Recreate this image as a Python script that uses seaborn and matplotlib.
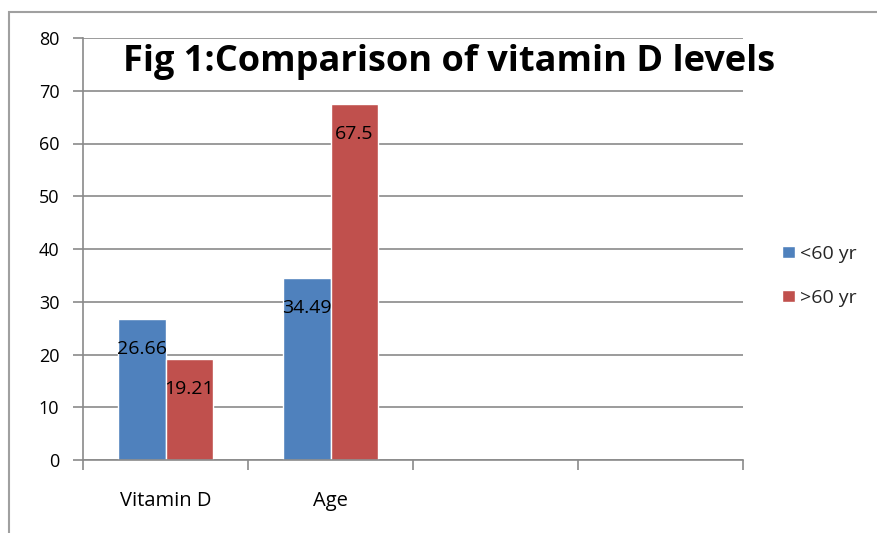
import matplotlib

matplotlib.use("Agg")
import matplotlib.pyplot as plt
import matplotlib.patches as mpatches
import pandas as pd
import seaborn as sns

# chart data
categories = ["Vitamin D", "Age"]
slots = ["Vitamin D", "Age", " ", "  "]
series = ["<60 yr", ">60 yr"]
under_60 = [26.66, 34.49]
over_60 = [19.21, 67.5]
colors = ["#4F81BD", "#C0504D"]
y_ticks = [0, 10, 20, 30, 40, 50, 60, 70, 80]
title = "Fig 1:Comparison of vitamin D levels"

df = pd.DataFrame({
    "category": categories * 2,
    "group": [series[0]] * len(categories) + [series[1]] * len(categories),
    "value": under_60 + over_60,
})

sns.set_theme(style="white")
plt.rcParams["font.family"] = ["Open Sans", "DejaVu Sans"]

W, H = 877, 533
fig = plt.figure(figsize=(W / 100, H / 100), dpi=100)
ax = fig.add_axes([83 / W, 1 - 460 / H, (743 - 83) / W, (460 - 38) / H])

sns.barplot(
    data=df, x="category", y="value", hue="group",
    order=slots, hue_order=series, palette=colors,
    width=0.57, saturation=1, ax=ax, legend=True,
)

for cont in ax.containers:
    ax.bar_label(cont, fmt="{:g}", padding=-28, fontsize=14, color="black")

ax.set_xlim(-0.5, len(slots) - 0.5)
ax.set_ylim(0, 80)
ax.set_yticks(y_ticks)
ax.set_xlabel("")
ax.set_ylabel("")
ax.grid(axis="y", color="#8a8a8a", linewidth=1.2)
ax.set_axisbelow(True)

for side in ["top", "right"]:
    ax.spines[side].set_visible(False)
for side in ["left", "bottom"]:
    ax.spines[side].set_color("#8a8a8a")
    ax.spines[side].set_linewidth(1.2)

ax.tick_params(axis="y", left=True, length=7, width=1.2, color="#8a8a8a",
               pad=10, labelsize=13, labelcolor="black")
ax.tick_params(axis="x", which="major", bottom=False, length=0, pad=22,
               labelsize=14.5, labelcolor="black")
ax.set_xticks([i - 0.5 for i in range(len(slots) + 1)], minor=True)
ax.tick_params(axis="x", which="minor", bottom=True, length=7, width=1.2,
               color="#8a8a8a")

handles, labels = ax.get_legend_handles_labels()
ax.legend(handles, labels, loc="center left", bbox_to_anchor=(764 / W, 1 - 276 / H),
          bbox_transform=fig.transFigure, frameon=False, fontsize=14,
          handlelength=0.7, handleheight=0.6, handletextpad=0.25, labelspacing=1.35)

fig.text(449 / W, 1 - 62 / H, title, ha="center", va="center",
         fontsize=26, fontweight="bold", color="black")

fig.patches.append(mpatches.Rectangle(
    (9 / W, -0.1), 1.0, 1.1 - 12 / H, transform=fig.transFigure,
    fill=False, edgecolor="#a0a0a0", linewidth=1.5))

fig.savefig("out.png", dpi=100)
plt.close(fig)
